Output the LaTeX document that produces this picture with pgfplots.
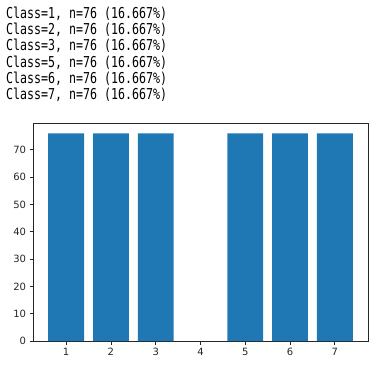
\documentclass[border=0pt]{standalone}
\usepackage{fontspec}
\setmainfont{DejaVu Sans}
\newfontfamily\monof{DejaVu Sans Mono}
\usepackage{pgfplots}
\pgfplotsset{compat=1.18}
\definecolor{mplblue}{HTML}{1F77B4}
\definecolor{spine}{HTML}{262626}
\begin{document}
\begin{tikzpicture}[x=1bp,y=1bp]
\path[use as bounding box] (0,0) rectangle (387,369);
\foreach \c [count=\i from 0] in {1,2,3,5,6,7}{
  \node[anchor=base west, inner sep=0pt, font=\monof\fontsize{15bp}{15bp}\selectfont] at (6, {369-18.3-16.3*\i}) {\scalebox{0.775}[1]{Class=\c, n=76 (16.667\%)}};
}
\begin{axis}[
  at={(33bp,28bp)}, anchor=south west,
  scale only axis, width=335bp, height=218bp,
  xmin=0.26, xmax=7.74, ymin=0, ymax=79.8,
  xtick={1,2,3,4,5,6,7},
  ytick={0,10,20,30,40,50,60,70},
  tick align=outside, tick pos=lower,
  major tick length=3.5bp,
  every tick/.style={spine, line width=0.8bp},
  axis line style={spine, line width=0.8bp},
  tick label style={font=\fontsize{10bp}{12bp}\selectfont, text=spine},
  /pgf/number format/assume math mode=true,
  ybar, bar width=0.8,
]
\addplot[fill=mplblue, draw=none] coordinates {(1,76) (2,76) (3,76) (5,76) (6,76) (7,76)};
\end{axis}
\end{tikzpicture}
\end{document}
